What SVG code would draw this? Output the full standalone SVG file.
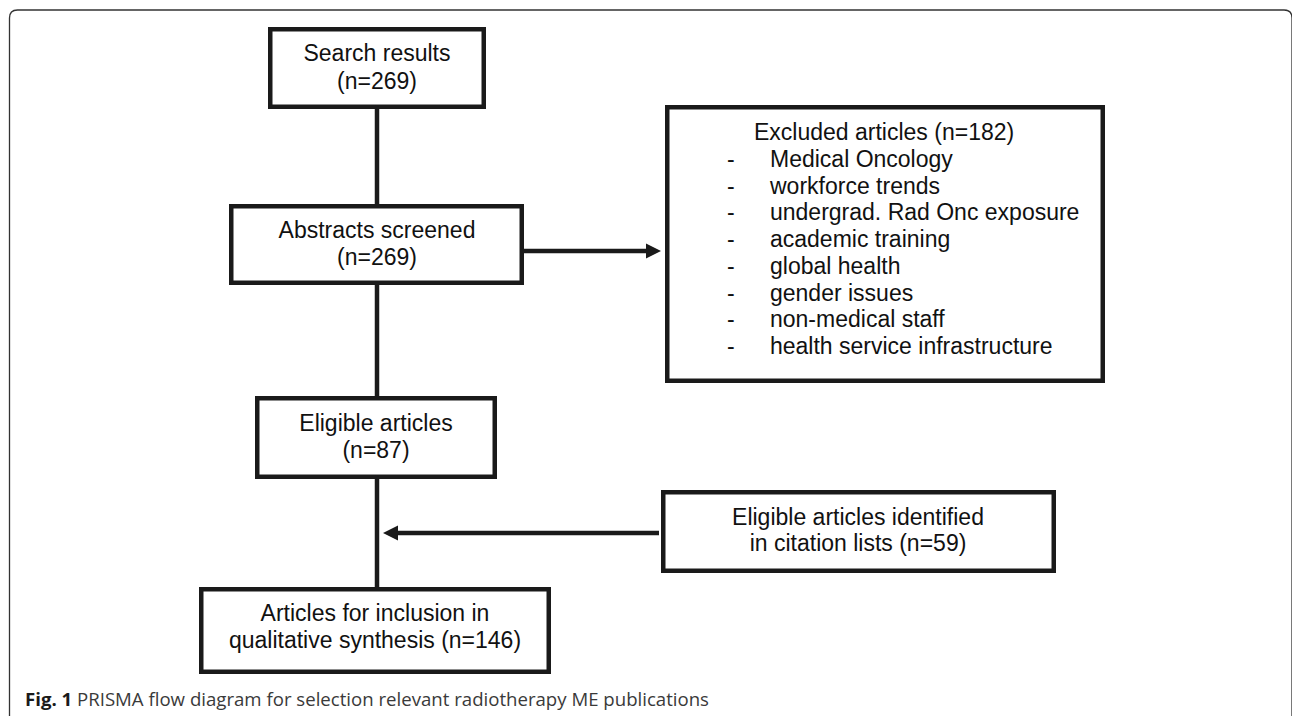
<svg xmlns="http://www.w3.org/2000/svg" width="1292" height="716" viewBox="0 0 1292 716">
  <defs>
    <style>
      .box { fill: #ffffff; stroke: #1a1a1a; stroke-width: 4.5; stroke-linejoin: miter; }
      .lbl { font-family: "Liberation Sans", Arial, sans-serif; font-size: 23px; fill: #111111; }
      .mid { text-anchor: middle; }
      .edge { fill: none; stroke: #1a1a1a; stroke-width: 4.5; }
      .cap { font-family: "Open Sans", "Noto Sans", sans-serif; font-size: 18px; fill: #3a3a3a; }
    </style>
    <marker id="arrow" markerUnits="userSpaceOnUse" markerWidth="18" markerHeight="18" viewBox="0 -9 16 18" refX="1" refY="0" orient="auto">
      <path d="M0,-7.5 L15,0 L0,7.5 Z" fill="#1a1a1a"/>
    </marker>
  </defs>
  <rect x="0" y="0" width="1292" height="716" fill="#ffffff"/>
  <path d="M9.5,722 L9.5,18 Q9.5,10 17.5,10 L1284,10 Q1292,10 1292,18 L1292,722" fill="none" stroke="#333333" stroke-width="1.3"/>

  <g id="connectors">
    <line class="edge" x1="377" y1="108" x2="377" y2="204"/>
    <line class="edge" x1="377" y1="285" x2="377" y2="396"/>
    <line class="edge" x1="377" y1="479" x2="377" y2="587"/>
    <line class="edge" x1="524" y1="251" x2="647" y2="251" marker-end="url(#arrow)"/>
    <line class="edge" x1="659" y1="533" x2="397" y2="533" marker-end="url(#arrow)"/>
  </g>

  <g id="search">
    <rect class="box" x="270.25" y="29.25" width="213.5" height="77.5"/>
    <text class="lbl mid" x="377" y="61">Search results</text>
    <text class="lbl mid" x="377" y="89">(n=269)</text>
  </g>

  <g id="abstracts">
    <rect class="box" x="231.25" y="206.25" width="290.5" height="76.5"/>
    <text class="lbl mid" x="377" y="238">Abstracts screened</text>
    <text class="lbl mid" x="377" y="265">(n=269)</text>
  </g>

  <g id="excluded">
    <rect class="box" x="667.25" y="107.25" width="435.5" height="273.5"/>
    <text class="lbl" x="754" y="140">Excluded articles (n=182)</text>
    <text class="lbl" x="727" y="167">-</text><text class="lbl" x="770" y="167">Medical Oncology</text>
    <text class="lbl" x="727" y="193.7">-</text><text class="lbl" x="770" y="193.7">workforce trends</text>
    <text class="lbl" x="727" y="220.4">-</text><text class="lbl" x="770" y="220.4">undergrad. Rad Onc exposure</text>
    <text class="lbl" x="727" y="247.1">-</text><text class="lbl" x="770" y="247.1">academic training</text>
    <text class="lbl" x="727" y="273.8">-</text><text class="lbl" x="770" y="273.8">global health</text>
    <text class="lbl" x="727" y="300.5">-</text><text class="lbl" x="770" y="300.5">gender issues</text>
    <text class="lbl" x="727" y="327.2">-</text><text class="lbl" x="770" y="327.2">non-medical staff</text>
    <text class="lbl" x="727" y="353.9">-</text><text class="lbl" x="770" y="353.9">health service infrastructure</text>
  </g>

  <g id="eligible">
    <rect class="box" x="257.25" y="398.25" width="237.5" height="78.5"/>
    <text class="lbl mid" x="376" y="431">Eligible articles</text>
    <text class="lbl mid" x="376" y="458">(n=87)</text>
  </g>

  <g id="citation">
    <rect class="box" x="663.25" y="492.25" width="390.5" height="78.5"/>
    <text class="lbl mid" x="858" y="525">Eligible articles identified</text>
    <text class="lbl mid" x="858" y="551">in citation lists (n=59)</text>
  </g>

  <g id="inclusion">
    <rect class="box" x="201.25" y="589.25" width="347.5" height="82.5"/>
    <text class="lbl mid" x="375" y="621">Articles for inclusion in</text>
    <text class="lbl mid" x="375" y="648">qualitative synthesis (n=146)</text>
  </g>

  <text class="cap" x="25" y="706" textLength="684" lengthAdjust="spacingAndGlyphs"><tspan font-weight="bold" fill="#1a1a1a">Fig. 1</tspan> PRISMA flow diagram for selection relevant radiotherapy ME publications</text>
</svg>
